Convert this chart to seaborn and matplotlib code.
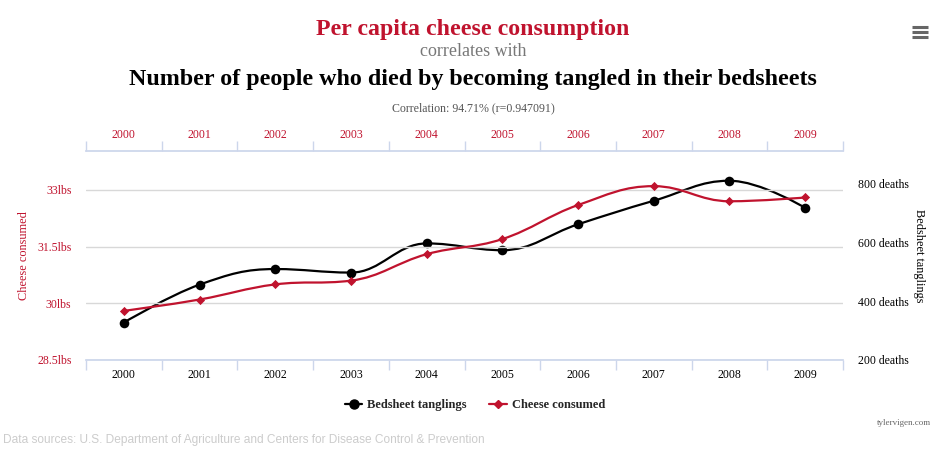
import numpy as np
import pandas as pd
import seaborn as sns
import matplotlib.pyplot as plt
from matplotlib.path import Path
from matplotlib.patches import PathPatch
from matplotlib.lines import Line2D

years = [2000, 2001, 2002, 2003, 2004, 2005, 2006, 2007, 2008, 2009]
cheese_lbs = [29.8, 30.1, 30.5, 30.6, 31.3, 31.7, 32.6, 33.1, 32.7, 32.8]
bedsheet_deaths = [327, 456, 509, 497, 596, 573, 661, 741, 809, 717]
cheese_ticks = [28.5, 30, 31.5, 33]
death_ticks = [200, 400, 600, 800]

RED = '#c0132e'
BLACK = '#000000'
SERIF = 'Liberation Serif'


def spline_path(xs, ys, smoothing=1.5):
    # highcharts-like spline: cubic bezier between points, control points built from neighbours
    n = len(xs)
    denom = smoothing + 1
    left = [None] * n
    right = [None] * n
    for i in range(n):
        x, y = xs[i], ys[i]
        if i == 0 or i == n - 1:
            left[i] = (x, y)
            right[i] = (x, y)
            continue
        lx, ly = xs[i - 1], ys[i - 1]
        nx, ny = xs[i + 1], ys[i + 1]
        lcx = (smoothing * x + lx) / denom
        lcy = (smoothing * y + ly) / denom
        rcx = (smoothing * x + nx) / denom
        rcy = (smoothing * y + ny) / denom
        if rcx != lcx:
            corr = (rcy - lcy) * (rcx - x) / (rcx - lcx) + y - rcy
            lcy += corr
            rcy += corr
        if lcy > ly and lcy > y:
            lcy = max(ly, y)
            rcy = 2 * y - lcy
        elif lcy < ly and lcy < y:
            lcy = min(ly, y)
            rcy = 2 * y - lcy
        if rcy > ny and rcy > y:
            rcy = max(ny, y)
            lcy = 2 * y - rcy
        elif rcy < ny and rcy < y:
            rcy = min(ny, y)
            lcy = 2 * y - rcy
        left[i] = (lcx, lcy)
        right[i] = (rcx, rcy)
    verts = [(xs[0], ys[0])]
    codes = [Path.MOVETO]
    for i in range(1, n):
        verts += [right[i - 1], left[i], (xs[i], ys[i])]
        codes += [Path.CURVE4] * 3
    return Path(verts, codes)


df = pd.DataFrame({'year': years, 'cheese': cheese_lbs, 'deaths': bedsheet_deaths})
df['pos'] = np.arange(len(years))

sns.set_theme(style='white')
plt.rcParams['font.family'] = [SERIF, 'DejaVu Serif']

fig = plt.figure(figsize=(9.46, 4.53), dpi=100)
ax_l = fig.add_axes([86 / 946, 93 / 453, 757 / 946, 209 / 453])
ax_r = ax_l.twinx()
ax_l.set_zorder(2)
ax_r.set_zorder(1)
ax_l.patch.set_visible(False)

# deaths (black) on the right axis
ax_r.add_patch(PathPatch(spline_path(df['pos'].tolist(), df['deaths'].tolist()),
                         fill=False, edgecolor=BLACK, lw=1.6, capstyle='round'))
sns.scatterplot(data=df, x='pos', y='deaths', ax=ax_r, color=BLACK, marker='o', s=48,
                edgecolor=BLACK, linewidth=0, zorder=3, legend=False)

# cheese (red) on the left axis
ax_l.add_patch(PathPatch(spline_path(df['pos'].tolist(), df['cheese'].tolist()),
                         fill=False, edgecolor=RED, lw=1.6, capstyle='round', zorder=2))
sns.scatterplot(data=df, x='pos', y='cheese', ax=ax_l, color=RED, marker='D', s=22,
                edgecolor=RED, linewidth=0, zorder=3, legend=False)

ax_l.set_xlim(-0.5, len(years) - 0.5)
ax_l.set_ylim(28.5, 34.03)
ax_r.set_ylim(200, 910)

for a in (ax_l, ax_r):
    for s in a.spines.values():
        s.set_visible(False)

ax_l.set_yticks(cheese_ticks)
ax_l.set_yticklabels([f'{t:g}lbs' for t in cheese_ticks], color=RED, fontsize=8.5)
ax_l.tick_params(axis='y', length=0, pad=10.5)
ax_l.grid(axis='y', color='#d8d8d8', lw=1)
ax_l.grid(axis='x', visible=False)

ax_r.set_yticks(death_ticks)
ax_r.set_yticklabels([f'{t} deaths' for t in death_ticks], color=BLACK, fontsize=8.5)
ax_r.tick_params(axis='y', length=0, pad=10.5)
ax_r.set_ylabel('Bedsheet tanglings', color=BLACK, fontsize=8.8, rotation=270, labelpad=12)
ax_r.grid(False)
ax_r.set_xlabel('')
ax_l.set_xlabel('')
ax_l.set_ylabel('Cheese consumed', color=RED, fontsize=8.8, labelpad=5)

# bottom axis
ax_l.spines['bottom'].set_visible(True)
ax_l.spines['bottom'].set_color('#ccd6eb')
ax_l.set_xticks(df['pos'])
ax_l.set_xticklabels(years, fontsize=8.5, color=BLACK)
ax_l.set_xticks(np.arange(-0.5, len(years)), minor=True)
ax_l.tick_params(axis='x', which='major', length=0, pad=6.5)
ax_l.tick_params(axis='x', which='minor', length=7, color='#ccd6eb', width=1, bottom=True)

# top axis
top = ax_l.secondary_xaxis('top')
top.spines['top'].set_color('#ccd6eb')
top.set_xticks(df['pos'])
top.set_xticklabels(years, fontsize=8.5, color=RED)
top.set_xticks(np.arange(-0.5, len(years)), minor=True)
top.tick_params(axis='x', which='major', length=0, pad=7)
top.tick_params(axis='x', which='minor', length=7, color='#ccd6eb', width=1, top=True)

# titles
fig.text(0.5, 1 - 29 / 453, 'Per capita cheese consumption', ha='center', va='center',
         color=RED, fontsize=17.2, fontweight='bold')
fig.text(0.5, 1 - 52 / 453, 'correlates with', ha='center', va='center',
         color='#777777', fontsize=13)
fig.text(0.5, 1 - 80 / 453, 'Number of people who died by becoming tangled in their bedsheets',
         ha='center', va='center', color=BLACK, fontsize=17.3, fontweight='bold')
fig.text(0.5, 1 - 108 / 453, 'Correlation: 94.71% (r=0.947091)', ha='center', va='center',
         color='#555555', fontsize=8.6)

# legend
handles = [
    Line2D([], [], color=BLACK, lw=1.6, marker='o', markersize=6.5),
    Line2D([], [], color=RED, lw=1.6, marker='D', markersize=4.5),
]
fig.legend(handles, ['Bedsheet tanglings', 'Cheese consumed'], loc='center',
           bbox_to_anchor=(475 / 946, 1 - 405 / 453), ncol=2, frameon=False,
           prop={'family': SERIF, 'weight': 'bold', 'size': 9}, handlelength=1.4,
           handletextpad=0.4, columnspacing=1.8)

fig.text(931 / 946, 1 - 423 / 453, 'tylervigen.com', ha='right', va='center',
         color='#666666', fontsize=6.5)
fig.text(3 / 946, 1 - 440 / 453, 'Data sources: U.S. Department of Agriculture and Centers for Disease Control & Prevention',
         ha='left', va='center', color='#cccccc', fontsize=8.6, family='Liberation Sans')

# menu icon
for yy in (27, 32, 37):
    fig.add_artist(Line2D([912 / 946, 928 / 946], [1 - yy / 453] * 2, color='#666666',
                          lw=2.2, solid_capstyle='butt'))

fig.savefig('out.png', dpi=100)
